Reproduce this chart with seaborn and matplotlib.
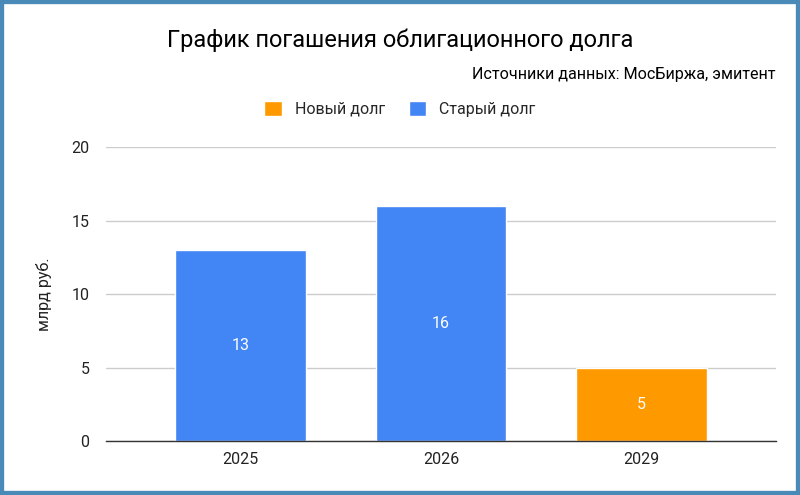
import pandas as pd
import matplotlib.pyplot as plt
import seaborn as sns
from matplotlib.patches import Patch

years = ['2025', '2026', '2029']
values = [13, 16, 5]
debt_type = ['Старый долг', 'Старый долг', 'Новый долг']
palette = {'Новый долг': '#ff9900', 'Старый долг': '#4285f4'}

sns.set_theme(style='white')
plt.rcParams['font.family'] = ['Roboto', 'DejaVu Sans']

df = pd.DataFrame({'year': years, 'value': values, 'type': debt_type})

fig = plt.figure(figsize=(8, 4.95), dpi=100)
ax = fig.add_axes([0.1325, 0.109, 0.8375, 0.594])

sns.barplot(data=df, x='year', y='value', hue='type', palette=palette,
            hue_order=['Новый долг', 'Старый долг'], dodge=False,
            width=0.65, saturation=1, ax=ax, legend=False)

# подписи значений внутри столбцов
for bar in ax.patches:
    h = bar.get_height()
    if h > 0:
        ax.text(bar.get_x() + bar.get_width() / 2, h / 2, f'{h:g}',
                ha='center', va='center', color='white', fontsize=11.5)

ax.set_xlim(-0.67, 2.67)
ax.set_ylim(0, 20)
ax.set_yticks([0, 5, 10, 15, 20])
ax.yaxis.grid(True, color='#cccccc', linewidth=1)
ax.set_axisbelow(True)
for s in ['top', 'right', 'left']:
    ax.spines[s].set_visible(False)
ax.spines['bottom'].set_color('#333333')
ax.spines['bottom'].set_linewidth(1)
ax.tick_params(axis='both', length=0, labelsize=11.5, colors='#222222', pad=8)
ax.tick_params(axis='y', pad=12)
ax.set_xlabel('')
ax.set_ylabel('млрд руб.', fontsize=11.5, color='#222222', labelpad=14)

fig.text(0.5, 0.918, 'График погашения облигационного долга', ha='center',
         va='center', fontsize=17, color='black')
fig.text(0.97, 0.85, 'Источники данных: МосБиржа, эмитент', ha='right',
         va='center', fontsize=11.6, color='black')

handles = [Patch(facecolor=palette[k], label=k) for k in ['Новый долг', 'Старый долг']]
fig.legend(handles=handles, loc='center', bbox_to_anchor=(0.5, 0.78), ncol=2,
           frameon=False, fontsize=11.5, handlelength=1.1, handleheight=1.1,
           columnspacing=1.5, handletextpad=0.8)

# рамка
fig.patches.append(plt.Rectangle((0, 0), 1, 1, transform=fig.transFigure,
                                 fill=False, edgecolor='#4a8ab8', linewidth=6))

fig.savefig('out.png', dpi=100)
